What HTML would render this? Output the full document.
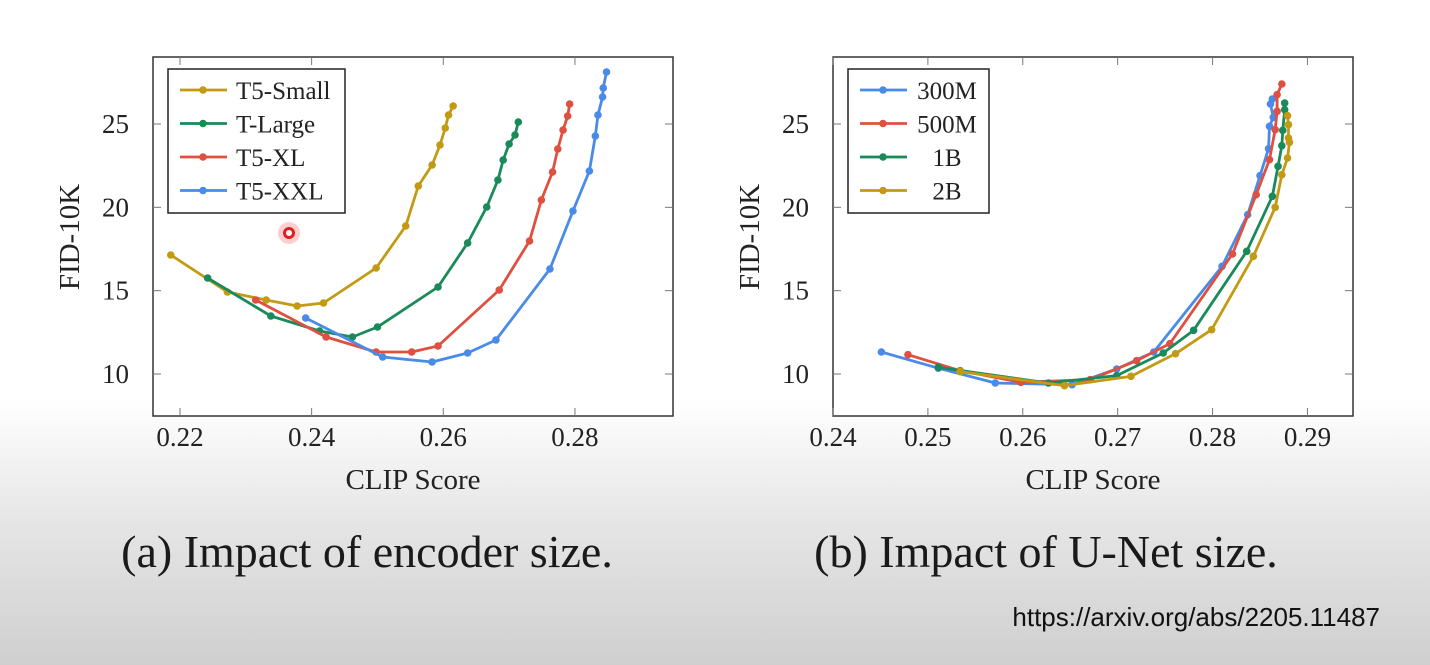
<!DOCTYPE html>
<html><head><meta charset="utf-8"><style>
html,body{margin:0;padding:0}
body{width:1430px;height:665px;overflow:hidden;background:linear-gradient(to bottom,#fff 0px,#fff 400px,#e6e6e6 520px,#cfcfcf 665px);font-family:"Liberation Serif",serif}
svg{position:absolute;left:0;top:0}
</style></head><body>
<svg id="s" width="1430" height="665" xmlns="http://www.w3.org/2000/svg"></svg>
<script>
// Chart (a): encoder size
const aNames=["T5-Small","T-Large","T5-XL","T5-XXL"];
const aColors=["#c39a14","#1a8a5a","#e05040","#4a8ae8"];
const aSmallX=[0.2186,0.2272,0.2331,0.2378,0.2418,0.2498,0.2543,0.2562,0.2583,0.2595,0.2603,0.2608,0.2615];
const aSmallY=[17.14,14.92,14.44,14.08,14.26,16.36,18.88,21.28,22.54,23.74,24.76,25.54,26.08];
const aLargeX=[0.2242,0.2338,0.2412,0.2462,0.25,0.2592,0.2637,0.2666,0.2683,0.2691,0.27,0.2709,0.2714];
const aLargeY=[15.76,13.48,12.58,12.22,12.82,15.22,17.86,20.02,21.64,22.84,23.8,24.34,25.12];
const aXLX=[0.2315,0.2422,0.2498,0.2552,0.2592,0.2685,0.2731,0.2749,0.2766,0.2774,0.2782,0.2789,0.2792];
const aXLY=[14.44,12.22,11.32,11.32,11.68,15.04,17.98,20.44,22.12,23.5,24.64,25.48,26.2];
const aXXLX=[0.2391,0.2508,0.2583,0.2637,0.268,0.2762,0.2797,0.2822,0.2831,0.2835,0.2842,0.2843,0.2848];
const aXXLY=[13.36,11.02,10.72,11.26,12.04,16.3,19.78,22.18,24.28,25.54,26.62,27.16,28.12];
const aXTicks=[0.22,0.24,0.26,0.28];
const aXTickLabels=["0.22","0.24","0.26","0.28"];
// Chart (b): U-Net size
const bNames=["300M","500M","1B","2B"];
const bColors=["#4a8ae8","#e05040","#1a8a5a","#c39a14"];
const b300X=[0.2451,0.2511,0.2571,0.2652,0.2699,0.2738,0.281,0.2837,0.285,0.2859,0.286,0.2864,0.2861,0.2863];
const b300Y=[11.32,10.35,9.46,9.36,10.3,11.32,16.46,19.56,21.9,23.52,24.86,25.4,26.2,26.5];
const b500X=[0.2479,0.2534,0.2598,0.2671,0.272,0.2755,0.2821,0.2846,0.286,0.2866,0.2868,0.2868,0.2873];
const b500Y=[11.16,10.2,9.5,9.66,10.8,11.82,17.2,20.76,22.86,24.66,25.76,26.76,27.4];
const b1BX=[0.2511,0.2627,0.2699,0.2748,0.278,0.2836,0.2863,0.2869,0.2873,0.2874,0.2876,0.2876];
const b1BY=[10.4,9.46,9.9,11.26,12.62,17.36,20.66,22.46,23.7,24.62,25.86,26.26];
const b2BX=[0.2534,0.2644,0.2714,0.2761,0.2799,0.2843,0.2866,0.2873,0.2879,0.2881,0.288,0.288,0.2879];
const b2BY=[10.14,9.3,9.86,11.22,12.66,17.06,20.0,21.96,22.96,23.9,24.16,24.96,25.5];
const bXTicks=[0.24,0.25,0.26,0.27,0.28,0.29];
const bXTickLabels=["0.24","0.25","0.26","0.27","0.28","0.29"];
const yTicks=[10,15,20,25];
const yTickLabels=["10","15","20","25"];

const NS="http://www.w3.org/2000/svg";
const svg=document.getElementById('s');
function mk(tag,attrs,parent,text){const e=document.createElementNS(NS,tag);for(const k in attrs)e.setAttribute(k,attrs[k]);if(text!==undefined)e.textContent=text;(parent||svg).appendChild(e);return e;}

function chart(cfg){
  const g=mk('g',{});
  
  
  const L=cfg.left,R=cfg.right,T=57,B=416;
  const ymin=7.48,ymax=29.02;
  const sx=v=>L+(v-cfg.xmin)/(cfg.xmax-cfg.xmin)*(R-L);
  const sy=v=>B-(v-ymin)/(ymax-ymin)*(B-T);
  const box=mk('rect',{x:L,y:T,width:R-L,height:B-T,fill:'#fff',stroke:'#333','stroke-width':1.5},g);
  
  
  cfg.xt.forEach((t,i)=>{
    const x=sx(t);
    mk('line',{x1:x,y1:B,x2:x,y2:B-8,stroke:'#777'},g);
    mk('line',{x1:x,y1:T,x2:x,y2:T+8,stroke:'#777'},g);
    const tl=mk('text',{x:x,y:B+30,'text-anchor':'middle','font-size':27,fill:'#222'},g,cfg.xl[i]);
    
    
  });
  yTicks.forEach((t,i)=>{
    const y=sy(t);
    mk('line',{x1:L,y1:y,x2:L+8,y2:y,stroke:'#777'},g);
    mk('line',{x1:R,y1:y,x2:R-8,y2:y,stroke:'#777'},g);
    const tl=mk('text',{x:L-24,y:y+9,'text-anchor':'end','font-size':27,fill:'#222'},g,yTickLabels[i]);
    
    
  });
  const xt=mk('text',{x:(L+R)/2,y:489,'text-anchor':'middle','font-size':29,fill:'#222'},g,'CLIP Score');
  
  
  const yx=L-74,yy=237;
  const yt=mk('text',{x:yx,y:yy,'text-anchor':'middle','font-size':29,fill:'#222',transform:`rotate(-90 ${yx} ${yy})`},g,'FID-10K');
  
  
  cfg.series.forEach((s,i)=>{
    const sg=mk('g',{},g);
    
    
    const pts=s[0].map((x,j)=>sx(x)+','+sy(s[1][j])).join(' ');
    mk('polyline',{points:pts,fill:'none',stroke:cfg.colors[i],'stroke-width':2.8,'stroke-linejoin':'round'},sg);
    s[0].forEach((x,j)=>{
      const c=mk('circle',{cx:sx(x),cy:sy(s[1][j]),r:3.8,fill:cfg.colors[i]},sg);
      
      
    });
  });
  const lg=mk('g',{},g);
  
  
  mk('rect',{x:L+15,y:69,width:cfg.legW,height:144,fill:'#fff',stroke:'#222','stroke-width':1.5},lg);
  cfg.names.forEach((n,i)=>{
    const y=90+i*33.5;
    const le=mk('g',{},lg);
    
    
    mk('line',{x1:L+27,y1:y,x2:L+74,y2:y,stroke:cfg.colors[i],'stroke-width':2.8},le);
    mk('circle',{cx:L+50,cy:y,r:3.8,fill:cfg.colors[i]},le);
    mk('text',{x:cfg.legTextX?cfg.legTextX[i]:L+83,y:y+9,'font-size':25,fill:'#222','text-anchor':cfg.legAnchor||'start'},le,n);
  });
}
chart({id:'chart-encoder-size',left:153,right:673,xmin:0.2159,xmax:0.2949,xt:aXTicks,xl:aXTickLabels,
  series:[[aSmallX,aSmallY],[aLargeX,aLargeY],[aXLX,aXLY],[aXXLX,aXXLY]],names:aNames,colors:aColors,legW:177});
chart({id:'chart-unet-size',left:833,right:1353,xmin:0.24,xmax:0.2948,xt:bXTicks,xl:bXTickLabels,
  series:[[b300X,b300Y],[b500X,b500Y],[b1BX,b1BY],[b2BX,b2BY]],names:bNames,colors:bColors,legW:141,
  legAnchor:'middle',legTextX:[947,947,947,947]});

const c1=mk('text',{x:367,y:567,'text-anchor':'middle','font-size':46,fill:'#1a1a1a'},svg,'(a) Impact of encoder size.');


const c2=mk('text',{x:1046,y:567,'text-anchor':'middle','font-size':46,fill:'#1a1a1a'},svg,'(b) Impact of U-Net size.');


const u=mk('text',{x:1380,y:626,'text-anchor':'end','font-size':26,fill:'#111','font-family':'Liberation Sans, sans-serif'},svg,'https://arxiv.org/abs/2205.11487');


const glow=mk('circle',{cx:289,cy:233,r:11,fill:'rgba(255,60,60,0.25)'},svg);


const cur=mk('circle',{cx:289,cy:233,r:4.5,fill:'#fff',stroke:'#e02020','stroke-width':3},svg);


</script>
</body></html>
